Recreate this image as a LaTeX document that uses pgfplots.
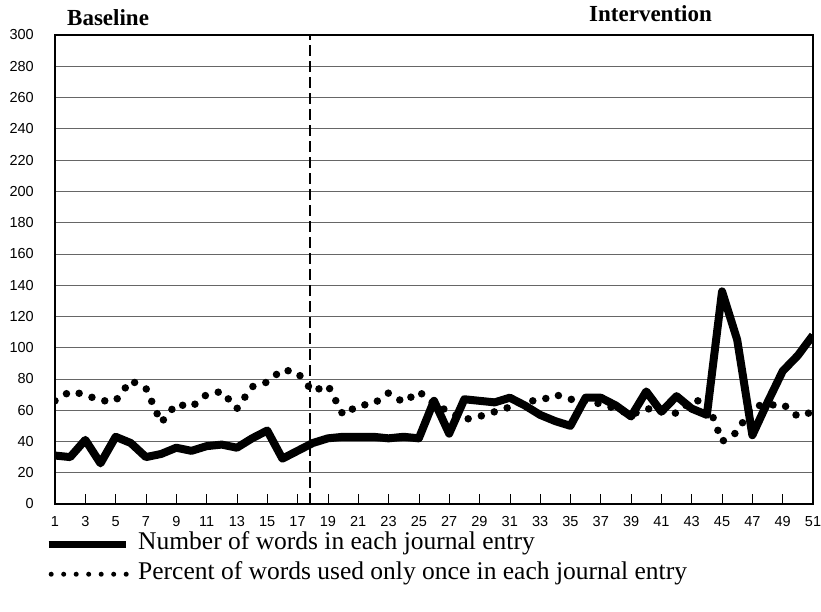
\documentclass[border=0pt]{standalone}
\usepackage{fontspec}
\setmainfont{Liberation Serif}
\newfontfamily\arialfont{Liberation Sans}
\usepackage{pgfplots}
\usepackage{pgfplotstable}
\pgfplotsset{compat=1.18}
\pgfplotstableread{
x words percent
1 31 66
2 30 72
3 41 70
4 26 66
5 43 66
6 39 79
7 30 74
8 32 52
9 36 64
10 34 62
11 37 70
12 38 72
13 36 61
14 42 75
15 47 78
16 29 86
17 34 84
18 39 72
19 42 76
20 43 57
21 43 63
22 43 64
23 42 71
24 43 65
25 42 72
26 66 64
27 45 59
28 67 54
29 66 56
30 65 59
31 68 62
32 63 66
33 57 66
34 53 70
35 50 67
36 68 66
37 68 64
38 63 61
39 56 57
40 72 61
41 59 60
42 69 58
43 61 66
44 57 66
45 136 40
46 105 46
47 44 63
48 65 63
49 85 64
50 95 56
51 108 59
}\journal
\begin{document}
\begin{tikzpicture}
\useasboundingbox (0,0) rectangle (821pt,611pt);
\begin{axis}[
  at={(55pt,107pt)}, anchor=south west,
  scale only axis, width=758pt, height=469pt,
  xmin=1, xmax=51, ymin=0, ymax=300,
  xtick={1,3,...,51}, ytick={0,20,...,300},
  xtick pos=bottom, ytick pos=left,
  tick align=inside,
  major tick length=10pt,
  ytick style={draw=none},
  xtick style={black, line width=0.6pt},
  ymajorgrids, grid style={black!60, line width=0.7pt},
  axis line style={black, line width=1.2pt},
  /pgf/number format/assume math mode=true,
  tick label style={font=\arialfont\fontsize{14.5pt}{15pt}\selectfont},
  yticklabel style={inner sep=0pt, xshift=-21pt, anchor=east},
  xticklabel style={inner sep=0pt, yshift=-12pt, anchor=north},
  legend style={at={(-0.0132,-0.064)}, anchor=north west, draw=none, fill=none,
    inner sep=0pt, font=\fontsize{25.5pt}{26pt}\selectfont, row sep=10pt,
    nodes={inner sep=0pt, text height=15pt, text depth=5pt}, column sep=9pt},
  legend cell align=left,
  reverse legend,
]
\addplot[black, line width=1.6pt, dash pattern=on 11pt off 5pt, forget plot]
  coordinates {(17.84,0) (17.84,300)};
\addplot[black, line width=7.5pt, line cap=round, dash pattern=on 0pt off 13.5pt,
  legend image code/.code={\draw[black, line width=5pt, line cap=round, dash pattern=on 0pt off 12.5pt] (2.5pt,0pt) -- (78pt,0pt);}]
  table[x=x, y=percent] {\journal};
\addlegendentry{Percent of words used only once in each journal entry}
\addplot[black, line width=8pt, line join=round,
  legend image code/.code={\draw[black, line width=7pt] (0pt,0pt) -- (77pt,0pt);}]
  table[x=x, y=words] {\journal};
\addlegendentry{Number of words in each journal entry}
\end{axis}
\node[anchor=base west, font=\bfseries\fontsize{23pt}{25pt}\selectfont, inner sep=0pt] at (67pt,585pt) {Baseline};
\node[anchor=base west, font=\bfseries\fontsize{23pt}{25pt}\selectfont, inner sep=0pt] at (589pt,589pt) {Intervention};
\end{tikzpicture}
\end{document}
